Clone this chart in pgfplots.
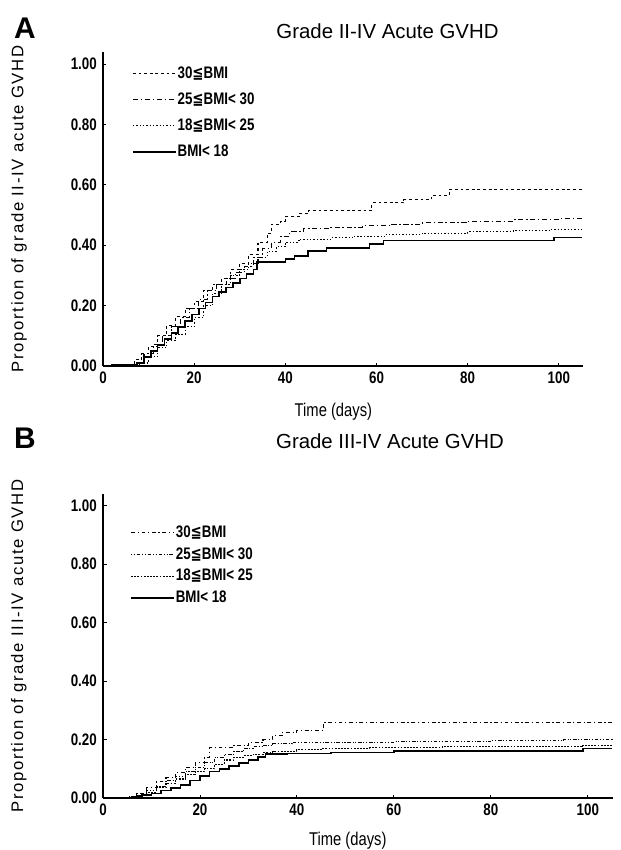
\documentclass[border=0pt]{standalone}
\usepackage{fontspec}
\setmainfont{Liberation Sans}
\newfontfamily\narrow{Liberation Sans}[FakeStretch=0.8]
\newfontfamily\sym{DejaVu Sans}[FakeStretch=0.8]
\usepackage{pgfplots}
\pgfplotsset{compat=1.18}

\newcommand{\leqq}{{\sym ≦}}
\pgfplotsset{
  km/.style={
    scale only axis, axis lines=left, axis line style={-, line width=0.6pt},
    xmin=0, ymin=0, ymax=1.04,
    xtick={0,20,40,60,80,100}, ytick={0,0.2,0.4,0.6,0.8,1},
    tick align=inside, major tick length=0.07cm, tick style={black, line width=0.5pt},
    /pgf/number format/assume math mode=true,
    ticklabel style={font=\narrow\bfseries\fontsize{9.5}{10}\selectfont},
    yticklabel style={/pgf/number format/fixed, /pgf/number format/fixed zerofill, /pgf/number format/precision=2},
    xlabel={Time (days)},
    xlabel style={font=\narrow\fontsize{10.5}{12}\selectfont, at={(axis description cs:0.48,0)}, anchor=north, yshift=-0.62cm},
    ylabel style={font=\fontsize{9.5}{11}\selectfont\addfontfeature{LetterSpace=10}, at={(axis description cs:-0.175,0.5)}, anchor=center},
    legend cell align=left,
    legend style={draw=none, fill=none, inner sep=0pt, font=\narrow\bfseries\fontsize{9.5}{10}\selectfont,
      nodes={inner sep=0.5pt, text height=6.5pt, text depth=1pt}},
    legend image code/.code={\draw[#1] (0cm,0cm) -- (0.86cm,0cm);},
    every axis plot/.append style={const plot, no marks, black},
  },
  s1/.style={line width=0.9pt},
  s2/.style={line width=0.6pt, dash pattern=on 0.8pt off 1.1pt},
}

\begin{document}
\begin{tikzpicture}
\useasboundingbox (0,0) rectangle (12.42,-17);

\node[font=\bfseries\fontsize{17}{18}\selectfont] at (0.5,-0.56) {A};
\node[font=\fontsize{11.6}{13}\selectfont] at (7.75,-0.62) {Grade II-IV Acute GVHD};
\node[font=\bfseries\fontsize{17}{18}\selectfont] at (0.5,-8.76) {B};
\node[font=\fontsize{11.6}{13}\selectfont] at (7.8,-8.82) {Grade III-IV Acute GVHD};

% panel A
\begin{axis}[km, at={(2.06cm,-7.32cm)}, anchor=south west,
  width=9.6cm, height=6.28cm, xmax=105.3,
  ylabel={Proportion of grade II-IV acute GVHD},
  legend style={at={(axis description cs:0.06,0.955)}, anchor=north west, row sep=6.3pt}]
\addplot[line width=0.6pt, dash pattern=on 1.6pt off 1.6pt] coordinates {
 (0,0)(5,0.005)(7,0.02)(8.5,0.04)(10,0.065)(12,0.1)(14,0.135)(16,0.165)(18,0.19)(20,0.215)
 (22,0.25)(24,0.27)(26,0.29)(28,0.32)(30,0.34)(32,0.37)(34,0.41)(36,0.44)(37,0.47)(39,0.48)
 (40,0.495)(43,0.505)(45,0.515)(59,0.54)(66,0.55)(72,0.565)(76,0.585)(105,0.585)};
\addlegendentry{30\leqq BMI}
\addplot[line width=0.6pt, dash pattern=on 3pt off 1.5pt on 0.8pt off 1.5pt] coordinates {
 (0,0)(5,0.003)(7,0.01)(9,0.04)(11,0.07)(13,0.1)(15,0.13)(17,0.16)(19,0.19)(21,0.22)
 (23,0.25)(25,0.27)(27,0.29)(29,0.31)(31,0.33)(33,0.36)(35,0.39)(37,0.41)(39,0.43)(41,0.445)
 (44,0.455)(50,0.46)(57,0.465)(63,0.47)(70,0.475)(80,0.48)(90,0.485)(100,0.488)(105,0.488)};
\addlegendentry{25\leqq BMI< 30}
\addplot[s2] coordinates {
 (0,0)(6,0.003)(8,0.01)(10,0.03)(12,0.06)(14,0.085)(16,0.105)(18,0.13)(20,0.16)(22,0.2)
 (24,0.24)(26,0.27)(28,0.3)(30,0.32)(32,0.34)(34,0.36)(36,0.38)(38,0.395)(40,0.41)(43,0.42)
 (50,0.425)(55,0.43)(62,0.435)(70,0.44)(80,0.445)(90,0.448)(98,0.452)(105,0.452)};
\addlegendentry{18\leqq BMI< 25}
\addplot[s1] coordinates {
 (0,0)(2,0.004)(6,0.004)(7.5,0.01)(9,0.03)(10.5,0.05)(12,0.07)(13.5,0.09)(15,0.11)(16.5,0.13)
 (18,0.15)(19.5,0.17)(21,0.19)(22.5,0.21)(24,0.23)(25.5,0.245)(27,0.26)(28.5,0.275)(30,0.29)
 (31.5,0.305)(33,0.32)(33.8,0.345)(40,0.355)(42,0.365)(45,0.38)(49,0.39)(58.5,0.405)(61.5,0.415)
 (99,0.425)(105,0.425)};
\addlegendentry{BMI< 18}
\end{axis}

% panel B
\begin{axis}[km, at={(2.06cm,-15.96cm)}, anchor=south west,
  width=10.2cm, height=6.08cm, xmax=105.2,
  ylabel={Proportion of grade III-IV acute GVHD},
  ylabel style={at={(axis description cs:-0.165,0.5)}},
  xlabel style={yshift=0.06cm},
  legend style={at={(axis description cs:0.053,0.9)}, anchor=north west, row sep=4pt}]
\addplot[line width=0.6pt, dash pattern=on 2.2pt off 1.5pt on 0.7pt off 1.5pt] coordinates {
 (0,0)(5,0.004)(7,0.015)(9,0.035)(11,0.055)(13,0.07)(15,0.088)(17,0.105)(19,0.12)(21,0.14)
 (22,0.172)(27,0.18)(30,0.19)(33,0.2)(35,0.215)(37,0.225)(40,0.232)(45.5,0.258)(105,0.258)};
\addlegendentry{30\leqq BMI}
\addplot[line width=0.6pt, dash pattern=on 0.6pt off 1pt on 0.6pt off 1pt on 2pt off 1pt] coordinates {
 (0,0)(5,0.002)(7,0.01)(9,0.025)(11,0.04)(13,0.06)(15,0.075)(17,0.09)(19,0.105)(21,0.12)
 (23,0.14)(25,0.15)(27,0.16)(29,0.17)(31,0.175)(33,0.18)(35,0.185)(39,0.19)(60,0.192)
 (80,0.196)(95,0.2)(105,0.202)};
\addlegendentry{25\leqq BMI< 30}
\addplot[line width=0.6pt, dash pattern=on 1pt off 0.8pt] coordinates {
 (0,0)(5,0.002)(7,0.008)(9,0.02)(11,0.035)(13,0.05)(15,0.065)(17,0.08)(19,0.09)(21,0.1)
 (23,0.115)(25,0.13)(27,0.14)(29,0.145)(31,0.15)(33,0.155)(35,0.16)(40,0.165)(45,0.17)
 (55,0.172)(70,0.175)(99,0.18)(105,0.18)};
\addlegendentry{18\leqq BMI< 25}
\addplot[s1] coordinates {
 (0,0)(2,0.002)(6,0.004)(8,0.01)(10,0.015)(12,0.025)(14,0.035)(16,0.045)(18,0.06)(20,0.075)
 (22,0.09)(24,0.1)(26,0.11)(28,0.12)(30,0.13)(32,0.14)(33.5,0.15)(38,0.152)(47,0.156)
 (60,0.16)(99,0.17)(105,0.17)};
\addlegendentry{BMI< 18}
\end{axis}
\end{tikzpicture}
\end{document}
